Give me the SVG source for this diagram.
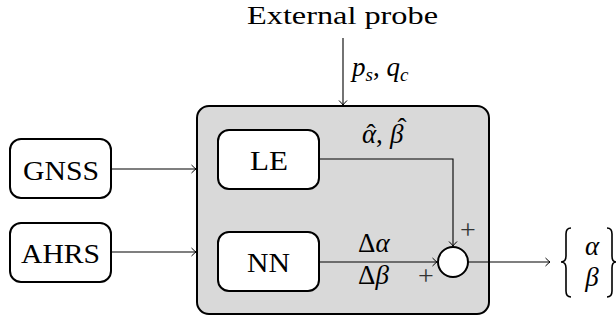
<svg xmlns="http://www.w3.org/2000/svg" width="616" height="321" viewBox="0 0 616 321">
<defs>
<marker id="arr" markerUnits="userSpaceOnUse" markerWidth="12" markerHeight="12" viewBox="-6 -6 12 12" refX="0" refY="0" orient="auto">
<path d="M-4.5,-4 Q-1.5,-1 0,0 Q-1.5,1 -4.5,4" fill="none" stroke="#000" stroke-width="1"/>
</marker>
<style>
.t{font-family:"Liberation Serif","Times New Roman",serif;font-size:28px;fill:#000}
.m{font-family:"Liberation Serif","Times New Roman",serif;font-size:27px;fill:#000}
.i{font-style:italic}
.box{fill:#fff;stroke:#000;stroke-width:2}
.ln{fill:none;stroke:#000;stroke-width:1.1}
.pl{font-family:"Liberation Serif",serif;font-size:28px;fill:#333}
</style>
</defs>
<rect width="616" height="321" fill="#fff"/>
<g id="system">
<rect x="197" y="106" width="292" height="208" rx="12" fill="#d9d9d9" stroke="#000" stroke-width="2"/>
</g>
<g id="external">
<text class="t" x="342.5" y="24" text-anchor="middle" textLength="191" lengthAdjust="spacingAndGlyphs" style="font-size:26px">External probe</text>
</g>
<g id="gnss">
<rect class="box" x="10" y="139" width="101" height="59" rx="11"/>
<text class="t" x="61" y="180" text-anchor="middle" textLength="76" lengthAdjust="spacingAndGlyphs">GNSS</text>
</g>
<g id="ahrs">
<rect class="box" x="10" y="223" width="101" height="59" rx="11"/>
<text class="t" x="60.5" y="262.5" text-anchor="middle" textLength="79" lengthAdjust="spacingAndGlyphs">AHRS</text>
</g>
<g id="le">
<rect class="box" x="218" y="130" width="101" height="59" rx="11"/>
<text class="t" x="269" y="170" text-anchor="middle" textLength="38" lengthAdjust="spacingAndGlyphs">LE</text>
</g>
<g id="nn">
<rect class="box" x="218" y="232" width="101" height="59" rx="11"/>
<text class="t" x="268.5" y="272" text-anchor="middle" textLength="43" lengthAdjust="spacingAndGlyphs">NN</text>
</g>
<g id="sum">
<circle cx="453" cy="262" r="15" fill="#fff" stroke="#000" stroke-width="2"/>
</g>
<g id="output">
<path d="M571,228 Q566,228 566,234 L566,256 Q566,262 561,262 Q566,262 566,268 L566,291 Q566,297 571,297" fill="none" stroke="#000" stroke-width="1.6"/>
<path d="M607,228 Q612,228 612,234 L612,256 Q612,262 616,262 Q612,262 612,268 L612,291 Q612,297 607,297" fill="none" stroke="#000" stroke-width="1.6"/>
<text class="m i" x="592" y="255" text-anchor="middle">α</text>
<text class="m i" x="592" y="286" text-anchor="middle">β</text>
</g>
<g id="connectors">
<line class="ln" x1="343" y1="38" x2="343" y2="105" marker-end="url(#arr)"/>
<line class="ln" x1="111" y1="169" x2="196" y2="169" marker-end="url(#arr)"/>
<line class="ln" x1="111" y1="252" x2="196" y2="252" marker-end="url(#arr)"/>
<polyline class="ln" points="319,159 453,159 453,246" marker-end="url(#arr)"/>
<line class="ln" x1="319" y1="262" x2="437" y2="262" marker-end="url(#arr)"/>
<line class="ln" x1="468" y1="262" x2="550" y2="262" marker-end="url(#arr)"/>
</g>
<g id="labels">
<text class="m" x="352" y="76"><tspan class="i">p</tspan><tspan class="i" font-size="19" dy="5">s</tspan><tspan dy="-5">, </tspan><tspan class="i">q</tspan><tspan class="i" font-size="19" dy="5">c</tspan></text>
<text class="m" y="143"><tspan class="i" x="362">α</tspan><tspan x="366.5">ˆ</tspan><tspan x="376">,</tspan><tspan class="i" x="390">β</tspan><tspan x="397.5" y="137">ˆ</tspan></text>
<text class="m" x="358" y="252">Δ<tspan class="i">α</tspan></text>
<text class="m" x="358" y="284">Δ<tspan class="i">β</tspan></text>
<text class="pl" x="468" y="239" text-anchor="middle">+</text>
<text class="pl" x="426" y="285" text-anchor="middle">+</text>
</g>
</svg>
